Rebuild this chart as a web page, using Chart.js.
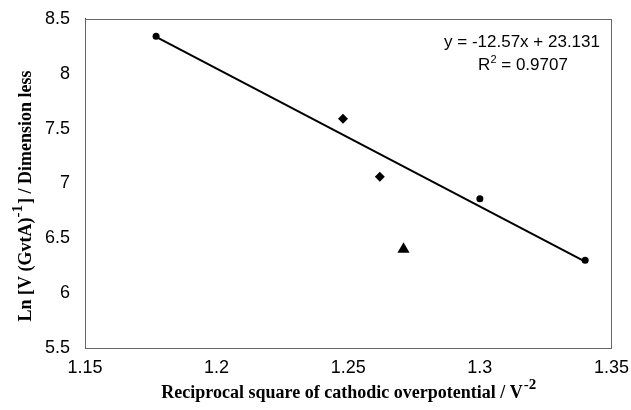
<!DOCTYPE html>
<html>
<head>
<meta charset="utf-8">
<script src="https://cdn.jsdelivr.net/npm/chart.js@4.4.0/dist/chart.umd.min.js"></script>
<style>
  html, body { margin: 0; padding: 0; background: #fff; }
  #wrap { width: 631px; height: 410px; }
</style>
</head>
<body>
<div id="wrap"><canvas id="c" width="631" height="410"></canvas></div>
<script>
// values
const circleX = [1.177, 1.300, 1.340];
const circleY = [8.34, 6.86, 6.30];
const diamondX = [1.248, 1.262];
const diamondY = [7.59, 7.06];
const triangleX = [1.271];
const triangleY = [6.40];
const trendX = [1.177, 1.340];
const trendY = [8.336, 6.287];
const xTicks = [1.15, 1.2, 1.25, 1.3, 1.35];
const yTicks = [5.5, 6, 6.5, 7, 7.5, 8, 8.5];
const eqLine1 = 'y = -12.57x + 23.131';
const r2Value = '0.9707';

function pts(xs, ys) {
    return xs.map((x, i) => ({ x: x, y: ys[i] }));
}

// axis titles (with superscripts), the equation and the frame
const extras = {
    id: 'extras',
    afterDraw(chart) {
        const ctx = chart.ctx;
        const a = chart.chartArea;
        ctx.save();

        // frame
        ctx.strokeStyle = '#666';
        ctx.lineWidth = 1;
        ctx.strokeRect(Math.round(a.left) + 0.5, Math.round(a.top) + 0.5,
            Math.round(a.right - a.left), Math.round(a.bottom - a.top));

        ctx.fillStyle = '#000';
        ctx.textBaseline = 'alphabetic';

        const big = 'bold 18px "Liberation Serif", "Times New Roman", serif';
        const sup = 'bold 15px "Liberation Serif", "Times New Roman", serif';

        // x title
        let t1 = 'Reciprocal square of cathodic overpotential / V';
        let s1 = '-2';
        ctx.font = big;
        let w1 = ctx.measureText(t1).width;
        ctx.font = sup;
        let w2 = ctx.measureText(s1).width;
        let sx = (a.left + a.right) / 2 - (w1 + w2) / 2;
        ctx.textAlign = 'left';
        ctx.font = big;
        ctx.fillText(t1, sx, 398);
        ctx.font = sup;
        ctx.fillText(s1, sx + w1 + 1, 389);

        // y title, rotated
        ctx.save();
        ctx.translate(31, 196);
        ctx.rotate(-Math.PI / 2);
        let p1 = 'Ln [V (GvtA)';
        let p2 = '-1';
        let p3 = '] / Dimension less';
        ctx.font = big;
        let wa = ctx.measureText(p1).width;
        let wc = ctx.measureText(p3).width;
        ctx.font = sup;
        let wb = ctx.measureText(p2).width;
        let x0 = -(wa + wb + wc + 1) / 2;
        ctx.font = big;
        ctx.fillText(p1, x0, 0);
        ctx.font = sup;
        ctx.fillText(p2, x0 + wa, -9);
        ctx.font = big;
        ctx.fillText(p3, x0 + wa + wb + 1, 0);
        ctx.restore();

        // regression equation
        const f = '17px "Liberation Sans", Arial, sans-serif';
        const fs = '11px "Liberation Sans", Arial, sans-serif';
        ctx.font = f;
        ctx.textAlign = 'center';
        ctx.fillText(eqLine1, 522, 47);
        let ra = 'R';
        let rb = '2';
        let rc = ' = ' + r2Value;
        let wra = ctx.measureText(ra).width;
        let wrc = ctx.measureText(rc).width;
        ctx.font = fs;
        let wrb = ctx.measureText(rb).width;
        let rx = 523 - (wra + wrb + wrc) / 2;
        ctx.textAlign = 'left';
        ctx.font = f;
        ctx.fillText(ra, rx, 70);
        ctx.font = fs;
        ctx.fillText(rb, rx + wra, 63);
        ctx.font = f;
        ctx.fillText(rc, rx + wra + wrb, 70);

        ctx.restore();
    }
};

new Chart(document.getElementById('c'), {
    type: 'scatter',
    data: {
        datasets: [
            {
                type: 'line',
                data: pts(trendX, trendY),
                borderColor: '#000',
                borderWidth: 2,
                pointRadius: 0,
                fill: false
            },
            {
                data: pts(circleX, circleY),
                pointStyle: 'circle',
                pointRadius: 3.5,
                backgroundColor: '#000',
                borderColor: '#000',
                borderWidth: 0
            },
            {
                data: pts(diamondX, diamondY),
                pointStyle: 'rectRot',
                pointRadius: 5,
                backgroundColor: '#000',
                borderColor: '#000',
                borderWidth: 0
            },
            {
                data: pts(triangleX, triangleY),
                pointStyle: 'triangle',
                pointRadius: 7,
                backgroundColor: '#000',
                borderColor: '#000',
                borderWidth: 0
            }
        ]
    },
    options: {
        responsive: false,
        animation: false,
        layout: { padding: { top: 18, right: 19, left: 0, bottom: 0 } },
        plugins: {
            legend: { display: false },
            tooltip: { enabled: false }
        },
        scales: {
            x: {
                type: 'linear',
                min: 1.15,
                max: 1.35,
                afterBuildTicks: (axis) => { axis.ticks = xTicks.map(v => ({ value: v })); },
                afterFit: (axis) => { axis.height = 62; },
                grid: { display: false, drawTicks: true, tickLength: 7, tickColor: '#444' },
                border: { color: '#444' },
                ticks: {
                    color: '#000',
                    padding: 2,
                    maxRotation: 0,
                    font: { family: '"Liberation Sans", Arial, sans-serif', size: 18 },
                    callback: (v) => String(v)
                }
            },
            y: {
                min: 5.5,
                max: 8.5,
                afterBuildTicks: (axis) => { axis.ticks = yTicks.map(v => ({ value: v })); },
                afterFit: (axis) => { axis.width = 85; },
                grid: { display: false, drawTicks: true, tickLength: 7, tickColor: '#444' },
                border: { color: '#444' },
                ticks: {
                    color: '#000',
                    padding: 8,
                    font: { family: '"Liberation Sans", Arial, sans-serif', size: 18 },
                    callback: (v) => String(v)
                }
            }
        }
    },
    plugins: [extras]
});
</script>
</body>
</html>
